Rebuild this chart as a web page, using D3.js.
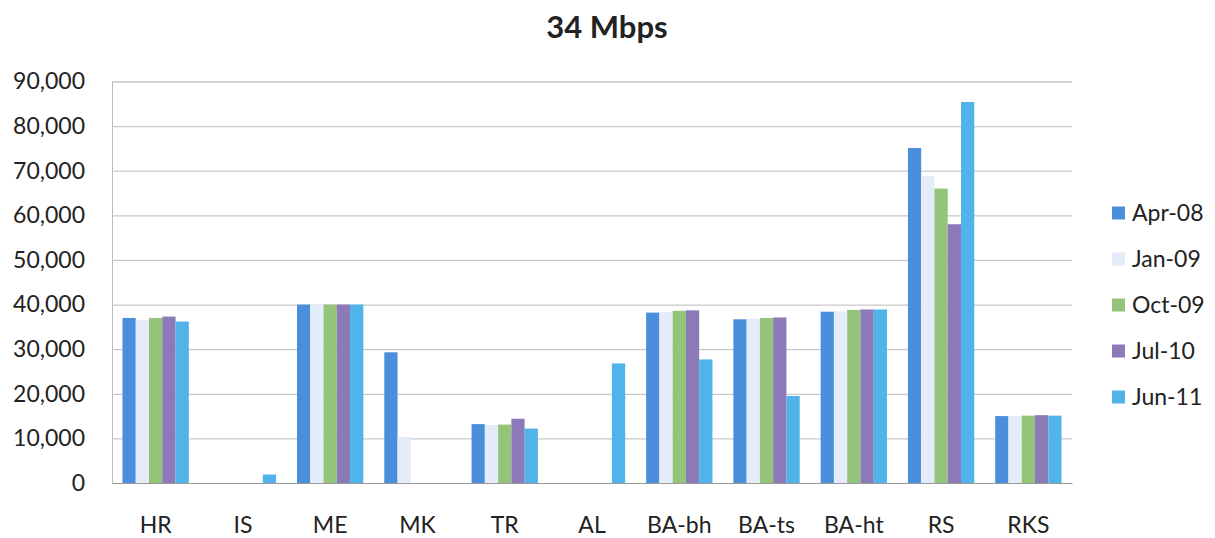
<!DOCTYPE html>
<html>
<head>
<meta charset="utf-8">
<script src="https://cdn.jsdelivr.net/npm/d3@7"></script>
<style>
  html, body { margin: 0; padding: 0; background: #fff; }
  svg { display: block; }
  text { font-family: Lato, "Open Sans", sans-serif; fill: #222; }
</style>
</head>
<body>
<svg id="chart" width="1215" height="538"></svg>
<script>
const title = "34 Mbps";
const categories = ["HR", "IS", "ME", "MK", "TR", "AL", "BA-bh", "BA-ts", "BA-ht", "RS", "RKS"];
const seriesNames = ["Apr-08", "Jan-09", "Oct-09", "Jul-10", "Jun-11"];
const apr08 = [37000, 0, 40000, 29300, 13200, 0, 38200, 36700, 38400, 75100, 15000];
const jan09 = [36500, 0, 40000, 10300, 13000, 0, 38300, 36800, 38500, 68800, 15000];
const oct09 = [37000, 0, 40000, 0, 13100, 0, 38600, 37000, 38800, 66000, 15100];
const jul10 = [37300, 0, 40000, 0, 14400, 0, 38700, 37100, 38900, 58000, 15200];
const jun11 = [36200, 1900, 40000, 0, 12200, 26800, 27700, 19500, 38900, 85400, 15100];
const seriesValues = [apr08, jan09, oct09, jul10, jun11];
const yTicks = [0, 10000, 20000, 30000, 40000, 50000, 60000, 70000, 80000, 90000];
const colors = ["#4a8edc", "#e3ecf8", "#94c479", "#8b7ab7", "#50b3e9"];

const svg = d3.select("#chart");
const margin = { left: 112, right: 1072, top: 81.5, bottom: 483 };

const x = d3.scaleBand().domain(categories).range([margin.left, margin.right]).padding(0);
const xs = d3.scaleBand().domain(seriesNames)
  .range([x.bandwidth() * 0.12, x.bandwidth() * 0.88]).padding(0);
const y = d3.scaleLinear().domain([0, 90000]).range([margin.bottom, margin.top]);

// Title
svg.append("text")
  .attr("x", 607).attr("y", 38)
  .attr("text-anchor", "middle")
  .style("font-size", "31px").style("font-weight", "bold")
  .text(title);

// Gridlines
const yAxis = d3.axisLeft(y).tickValues(yTicks)
  .tickSize(-(margin.right - margin.left))
  .tickFormat(d3.format(","))
  .tickPadding(27);
const gy = svg.append("g").attr("transform", `translate(${margin.left},0)`).call(yAxis);
gy.select(".domain").attr("stroke", "#bbb");
gy.selectAll(".tick line").attr("stroke", "#c9c9c9").attr("stroke-width", 1.2);
gy.selectAll(".tick text").style("font-size", "23px").attr("fill", "#222");

// Bars
const groups = svg.append("g").selectAll("g")
  .data(seriesNames.map((s, i) => ({ name: s, values: seriesValues[i], color: colors[i] })))
  .join("g").attr("fill", d => d.color);
groups.selectAll("rect")
  .data(d => d.values.map((v, j) => ({ cat: categories[j], v, s: d.name })))
  .join("rect")
  .attr("x", d => x(d.cat) + xs(d.s))
  .attr("width", xs.bandwidth())
  .attr("y", d => y(d.v))
  .attr("height", d => y(0) - y(d.v));

// Bottom axis
const xAxis = d3.axisBottom(x).tickSize(0).tickPadding(34);
const gx = svg.append("g").attr("transform", `translate(0,${margin.bottom})`).call(xAxis);
gx.select(".domain").attr("stroke", "#999").attr("stroke-width", 1.2);
gx.selectAll(".tick text").style("font-size", "23px").attr("fill", "#222");

// Legend
const legend = svg.append("g");
const rows = legend.selectAll("g").data(seriesNames).join("g")
  .attr("transform", (d, i) => `translate(1112, ${213 + i * 46})`);
rows.append("rect").attr("x", 0).attr("y", -6.5).attr("width", 13).attr("height", 13)
  .attr("fill", (d, i) => colors[i]);
rows.append("text").attr("x", 20).attr("y", 0).attr("dy", "0.35em")
  .style("font-size", "23px").text(d => d);
</script>
</body>
</html>
